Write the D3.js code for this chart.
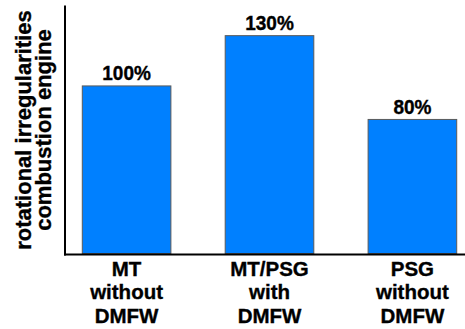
<!DOCTYPE html>
<html>
<head>
<meta charset="utf-8">
<script src="https://cdn.jsdelivr.net/npm/d3@7"></script>
<style>
  html, body { margin: 0; padding: 0; background: #fff; }
  svg { display: block; }
  text { font-family: "Liberation Sans", Arial, sans-serif; font-weight: bold; fill: #000;
         stroke: #000; stroke-width: 0.35px; }
</style>
</head>
<body>
<svg id="chart" width="465" height="329"></svg>
<script>
// Chart data
const categories = [
  ["MT", "without", "DMFW"],
  ["MT/PSG", "with", "DMFW"],
  ["PSG", "without", "DMFW"]
];
const values = [100, 130, 80];
const valueLabels = ["100%", "130%", "80%"];
const yTitle = ["rotational irregularities", "combustion engine"];

const svg = d3.select("#chart");
const W = 465, H = 329;
const axisX = 65, baseY = 253.5, topY = 5.5;

const x = d3.scaleBand()
  .domain(d3.range(values.length))
  .range([axisX, 474])
  .paddingInner(0.38)
  .paddingOuter(0.121);

const y = d3.scaleLinear()
  .domain([0, 148])
  .range([baseY, topY]);

// Bars
svg.append("g").selectAll("rect")
  .data(values)
  .join("rect")
  .attr("x", (d, i) => x(i))
  .attr("y", d => y(d))
  .attr("width", x.bandwidth())
  .attr("height", d => y(0) - y(d))
  .attr("fill", "#0080ff")
  .attr("stroke", "#5a5a5a")
  .attr("stroke-width", 1);

// Value labels above bars (slightly tall glyphs)
svg.append("g").selectAll("text")
  .data(values)
  .join("text")
  .attr("text-anchor", "middle")
  .attr("font-size", 19)
  .attr("transform", (d, i) =>
    `translate(${x(i) + x.bandwidth() / 2},${y(d) - 5.5}) scale(1,1.08)`)
  .text((d, i) => valueLabels[i]);

// Axes lines
svg.append("line")
  .attr("x1", axisX).attr("x2", axisX)
  .attr("y1", y.range()[1]).attr("y2", baseY + 2)
  .attr("stroke", "#000").attr("stroke-width", 2);
svg.append("line")
  .attr("x1", axisX - 1).attr("x2", W)
  .attr("y1", baseY + 1).attr("y2", baseY + 1)
  .attr("stroke", "#000").attr("stroke-width", 2);

// Category labels (three lines each)
const cat = svg.append("g").selectAll("text")
  .data(categories)
  .join("text")
  .attr("text-anchor", "middle")
  .attr("font-size", 20.5)
  .attr("transform", (d, i) => `translate(${x(i) + x.bandwidth() / 2},0)`);
cat.selectAll("tspan")
  .data(d => d)
  .join("tspan")
  .attr("x", 0)
  .attr("y", (d, j) => 276 + j * 23.3)
  .text(d => d);

// Y-axis title, rotated
const title = svg.append("text")
  .attr("text-anchor", "middle")
  .attr("font-size", 22)
  .attr("transform", "translate(0,130) rotate(-90)");
title.selectAll("tspan")
  .data(yTitle)
  .join("tspan")
  .attr("x", 0)
  .attr("y", (d, j) => 30.5 + j * 20.5)
  .text(d => d);
</script>
</body>
</html>
